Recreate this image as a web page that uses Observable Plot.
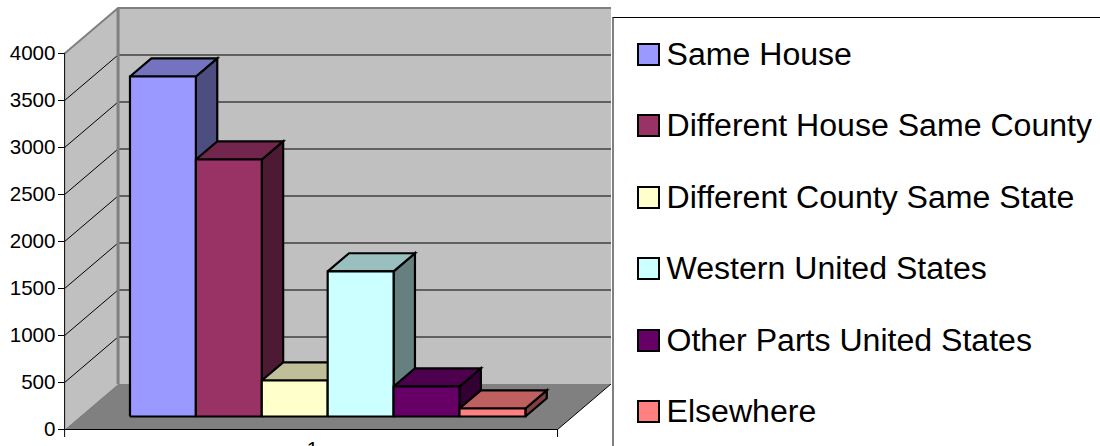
<!DOCTYPE html>
<html>
<head>
<meta charset="utf-8">
<script src="https://cdn.jsdelivr.net/npm/d3@7"></script>
<script src="https://cdn.jsdelivr.net/npm/@observablehq/plot@0.6"></script>
<style>
  html, body { margin: 0; padding: 0; background: #fff; overflow: hidden; }
  #chart { position: relative; width: 1100px; height: 446px; overflow: hidden; font-family: "Liberation Sans", Arial, sans-serif; }
  #chart svg { position: absolute; left: 0; top: 0; overflow: hidden; }
  #legend { position: absolute; left: 612px; top: 17px; width: 488px; height: 429px; box-sizing: border-box;
            border-top: 1px solid #000; border-left: 2px solid #808080; background: #fff; }
  .row { position: absolute; left: 23px; display: flex; align-items: center; height: 36px; font-size: 32.1px; color: #000; white-space: nowrap; }
  .swatch { width: 19px; height: 19px; border: 2px solid #000; margin-right: 6.5px; flex: none; }
</style>
</head>
<body>
<div id="chart"></div>
<script>
const categories = ["Same House", "Different House Same County", "Different County Same State",
                    "Western United States", "Other Parts United States", "Elsewhere"];
const values = [3617, 2734, 383, 1543, 319, 85];
const barColors = ["#9999FF", "#993366", "#FFFFCC", "#CCFFFF", "#660066", "#FF8080"];
const yTicks = [0, 500, 1000, 1500, 2000, 2500, 3000, 3500, 4000];
const xLabel = "1";

// Oblique projection: depth 0 is the front of the floor, depth 1 the back wall.
const depthX = 0.811;   // category units per unit of depth
const depthY = 484;     // value units per unit of depth
const barFront = 0.286;
const barBack = 0.686;
const floorLeft = -0.76;
const floorRight = 6.72;
const wallTop = 4000;
const tickDrop = -85;   // how far the axis ticks hang below the floor, in value units

const pt = (c, v, d) => ({x: c + d * depthX, y: v + d * depthY});
const face = (id, fill, corners) =>
  [...corners, corners[0]].map(([c, v, d]) => ({id, fill, ...pt(c, v, d)}));
const shade = (color, k) => {
  const {r, g, b} = d3.rgb(color);
  return d3.rgb(r * k, g * k, b * k).formatHex();
};

const wallFaces = [
  ...face("wall-left", "#C0C0C0", [[floorLeft, 0, 0], [floorLeft, wallTop, 0], [floorLeft, wallTop, 1], [floorLeft, 0, 1]]),
  ...face("wall-back", "#C0C0C0", [[floorLeft, 0, 1], [floorLeft, wallTop, 1], [floorRight, wallTop, 1], [floorRight, 0, 1]]),
  ...face("floor", "#808080", [[floorLeft, 0, 0], [floorRight, 0, 0], [floorRight, 0, 1], [floorLeft, 0, 1]])
];

const barFaces = values.flatMap((v, i) => {
  const c = barColors[i], a = i, b = i + 1;
  return [
    ...face(`side-${i}`, shade(c, 0.5), [[b, 0, barFront], [b, v, barFront], [b, v, barBack], [b, 0, barBack]]),
    ...face(`top-${i}`, shade(c, 0.75), [[a, v, barFront], [b, v, barFront], [b, v, barBack], [a, v, barBack]]),
    ...face(`front-${i}`, c, [[a, 0, barFront], [b, 0, barFront], [b, v, barFront], [a, v, barFront]])
  ];
});

const gridLines = yTicks.filter((t) => t > 0 && t < wallTop).flatMap((t, i) => [
  {id: i, ...pt(floorLeft, t, 0)}, {id: i, ...pt(floorLeft, t, 1)}, {id: i, ...pt(floorRight, t, 1)}
]);
const topGrid = [pt(floorLeft, wallTop, 0), pt(floorLeft, wallTop, 1), pt(floorRight, wallTop, 1)];
const cornerEdge = [pt(floorLeft, 0, 1), pt(floorLeft, wallTop, 1)];
const floorEdge = [pt(floorLeft, 0, 0), pt(floorRight, 0, 0), pt(floorRight, 0, 1)];

const sharp = {strokeLinejoin: "miter", strokeMiterlimit: 4, strokeLinecap: "butt"};

const plot = Plot.plot({
  width: 1100,
  height: 446,
  marginLeft: 64,
  marginTop: 0, marginRight: 0, marginBottom: 0,
  style: {background: "transparent", fontFamily: "'Liberation Sans', Arial, sans-serif", color: "#000"},
  x: {domain: [0, 6], range: [114.2, 509.6], axis: null},
  y: {domain: [0, 4000], range: [429, 53], axis: null},
  marks: [
    Plot.line(wallFaces, {x: "x", y: "y", z: "id", fill: "fill", stroke: null}),
    Plot.line(gridLines, {x: "x", y: "y", z: "id", stroke: "#000", strokeWidth: 1, ...sharp}),
    Plot.line(topGrid, {x: "x", y: "y", stroke: "#808080", strokeWidth: 2, ...sharp}),
    Plot.line(cornerEdge, {x: "x", y: "y", stroke: "#808080", strokeWidth: 3, ...sharp}),
    Plot.line(floorEdge, {x: "x", y: "y", stroke: "#000", strokeWidth: 1, ...sharp}),
    Plot.ruleX([floorLeft, floorRight], {y1: (d) => (d === floorLeft ? wallTop : 0), y2: tickDrop, stroke: "#000", strokeWidth: 1}),
    Plot.axisY(yTicks, {anchor: "left", tickSize: 6, tickPadding: 3, fontSize: 20.6, label: null, tickFormat: (d) => String(d), stroke: "#000", strokeWidth: 1}),
    Plot.line(barFaces, {x: "x", y: "y", z: "id", fill: "fill", stroke: "#000", strokeWidth: 2.2, ...sharp}),
    Plot.text([xLabel], {x: () => 3, y: () => 0, dy: 20, fontSize: 20.6, fill: "#000"})
  ]
});

const chart = document.getElementById("chart");
chart.appendChild(plot);

const legend = document.createElement("div");
legend.id = "legend";
categories.forEach((name, i) => {
  const row = document.createElement("div");
  row.className = "row";
  row.style.top = `${18.5 + i * 71.4}px`;
  const swatch = document.createElement("span");
  swatch.className = "swatch";
  swatch.style.background = barColors[i];
  row.appendChild(swatch);
  row.appendChild(document.createTextNode(name));
  legend.appendChild(row);
});
chart.appendChild(legend);
</script>
</body>
</html>
